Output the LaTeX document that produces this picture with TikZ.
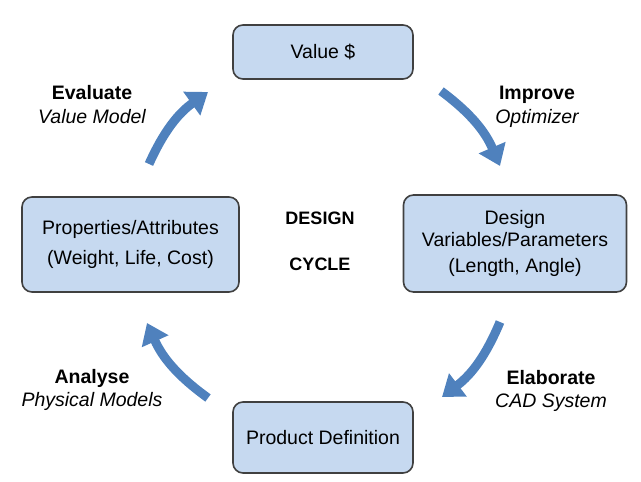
\documentclass[tikz,border=0pt]{standalone}
\usepackage{fontspec}
\setmainfont{Liberation Sans}
\usetikzlibrary{arrows.meta, positioning}
\definecolor{boxfill}{HTML}{C6D9F0}
\definecolor{boxline}{HTML}{404040}
\definecolor{cycleblue}{HTML}{4F81BD}

\begin{document}
\begin{tikzpicture}[
  x=1pt, y=1pt,
  block/.style = {draw=boxline, line width=1.6pt, fill=boxfill, rounded corners=10pt,
                  align=center, inner sep=0pt, font=\fontsize{19.5}{21.5}\selectfont},
  stage/.style = {inner sep=0pt, text height=14pt, text depth=4pt,
                  font=\fontsize{19.5}{21.5}\selectfont\bfseries},
  tool/.style  = {inner sep=0pt, text height=14pt, text depth=4pt,
                  font=\fontsize{19.5}{21.5}\selectfont\itshape},
  centre/.style = {inner sep=0pt, text height=13pt, text depth=4pt,
                  font=\fontsize{18}{21}\selectfont\bfseries},
  arrow/.style = {cycleblue, line width=9pt, -{Triangle[length=20pt, width=28pt]}}
]
  \useasboundingbox (0,0) rectangle (641,482);

  % Value
  \node[block, minimum width=180pt, minimum height=54pt] (value) at (323,430) {Value \$};

  % Design variables
  \node[block, minimum width=223pt, minimum height=97pt] (design) at (515,238.5) {
    Design\\
    Variables/Parameters\\[5pt]
    (Length, Angle)
  };

  % Product definition
  \node[block, minimum width=180pt, minimum height=71pt] (product) at (323,44.5) {Product Definition};

  % Properties
  \node[block, minimum width=217pt, minimum height=95pt] (props) at (130.5,237.5) {
    Properties/Attributes\\[8pt]
    (Weight, Life, Cost)
  };

  % centre text
  \node[centre] (cyclea) at (320,261.5) {DESIGN};
  \node[centre, below=28pt of cyclea] (cycleb) {CYCLE};

  % stage labels
  \node[stage] (evaluate) at (92,387) {Evaluate};
  \node[tool, below=5pt of evaluate] (valuemodel) {Value Model};

  \node[stage] (improve) at (537,387) {Improve};
  \node[tool, below=5pt of improve] (optimizer) {Optimizer};

  \node[stage] (elaborate) at (551,102) {Elaborate};
  \node[tool, below=4pt of elaborate] (cad) {CAD System};

  \node[stage] (analyse) at (92,103) {Analyse};
  \node[tool, below=4pt of analyse] (physical) {Physical Models};

  % arrow ends
  \coordinate (evalfrom) at (149,318);
  \coordinate (evalto) at (208,390);
  \coordinate (impfrom) at (441,391);
  \coordinate (impto) at (500,316);
  \coordinate (elabfrom) at (500,160);
  \coordinate (elabto) at (442,85);
  \coordinate (anafrom) at (208,84);
  \coordinate (anato) at (147,159);

  % cycle arrows
  \draw[arrow] (evalfrom) to[bend left=15] (evalto);
  \draw[arrow] (impfrom) to[bend left=15] (impto);
  \draw[arrow] (elabfrom) to[bend left=15] (elabto);
  \draw[arrow] (anafrom) to[bend left=15] (anato);

\end{tikzpicture}
\end{document}
